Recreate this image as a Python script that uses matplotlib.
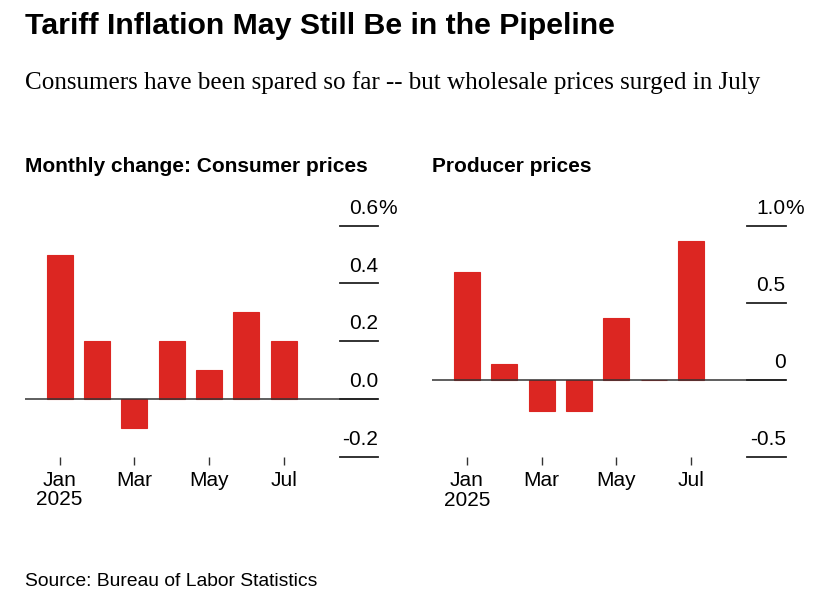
import matplotlib
matplotlib.use('Agg')
import matplotlib.pyplot as plt

months = ['Jan', 'Feb', 'Mar', 'Apr', 'May', 'Jun', 'Jul']
cpi = [0.5, 0.2, -0.1, 0.2, 0.1, 0.3, 0.2]
ppi = [0.7, 0.1, -0.2, -0.2, 0.4, 0.0, 0.9]
cpi_ticks = [-0.2, 0.0, 0.2, 0.4, 0.6]
cpi_labels = ['-0.2', '0.0', '0.2', '0.4', '0.6']
ppi_ticks = [-0.5, 0.0, 0.5, 1.0]
ppi_labels = ['-0.5', '0', '0.5', '1.0']
xtick_idx = [0, 2, 4, 6]
xtick_labels = ['Jan\n2025', 'Mar', 'May', 'Jul']

title = 'Tariff Inflation May Still Be in the Pipeline'
subtitle = 'Consumers have been spared so far -- but wholesale prices surged in July'
left_title = 'Monthly change: Consumer prices'
right_title = 'Producer prices'
source = 'Source: Bureau of Labor Statistics'

W, H = 823, 600
fig = plt.figure(figsize=(W / 100, H / 100), dpi=100)
fig.patch.set_facecolor('white')


def fx(x):
    return x / W


def fy(y):
    return 1 - y / H


RED = '#dc2622'
SANS = ['Liberation Sans', 'DejaVu Sans']
NARROW = ['Liberation Sans Narrow', 'Liberation Sans', 'DejaVu Sans']
SERIF = ['Liberation Serif', 'DejaVu Serif']


def panel(x0, y0, x1, y1, vals, ticks, labels):
    ax = fig.add_axes([fx(x0), fy(y1), (x1 - x0) / W, (y1 - y0) / H])
    xs = list(range(len(vals)))
    ax.bar(xs, vals, width=0.7, color=RED, edgecolor=RED, linewidth=0.8, zorder=2)
    ax.set_xlim(-0.926, 8.53)
    ax.set_ylim(ticks[0], ticks[-1])
    for s in ax.spines.values():
        s.set_visible(False)
    ax.set_yticks([])
    ax.set_xticks(xtick_idx)
    ax.set_xticklabels(xtick_labels, fontsize=15, family=SANS, linespacing=1.05)
    ax.tick_params(axis='x', length=6, width=1, color='#333333', pad=4)
    ax.axhline(0, color='#333333', lw=1.1, zorder=3)
    for t, l in zip(ticks, labels):
        ax.axhline(t, xmin=0.891, xmax=1, color='#222222', lw=1.3, zorder=3, clip_on=False)
        ax.annotate(l, xy=(1, t), xycoords=('axes fraction', 'data'), xytext=(0, 8.6),
                    textcoords='offset points', ha='right', va='baseline',
                    fontsize=15, family=SANS, annotation_clip=False)
    ax.annotate('%', xy=(1, ticks[-1]), xycoords=('axes fraction', 'data'), xytext=(0, 8.6),
                textcoords='offset points', ha='left', va='baseline',
                fontsize=15, family=SANS, annotation_clip=False)
    return ax


panel(25, 225.7, 378.3, 456.7, cpi, cpi_ticks, cpi_labels)
panel(432.3, 225.7, 785.7, 457, ppi, ppi_ticks, ppi_labels)

fig.text(fx(25), fy(34.3), title, fontsize=21.8, fontweight='bold', family=NARROW, va='baseline')
fig.text(fx(25), fy(89.3), subtitle, fontsize=18.1, family=SERIF, va='baseline')
fig.text(fx(25), fy(171.7), left_title, fontsize=15, fontweight='bold', family=SANS, va='baseline')
fig.text(fx(432.5), fy(171.7), right_title, fontsize=15, fontweight='bold', family=SANS, va='baseline')
fig.text(fx(25), fy(586.5), source, fontsize=13.9, family=SANS, va='baseline')

fig.savefig('out.png', dpi=100)
